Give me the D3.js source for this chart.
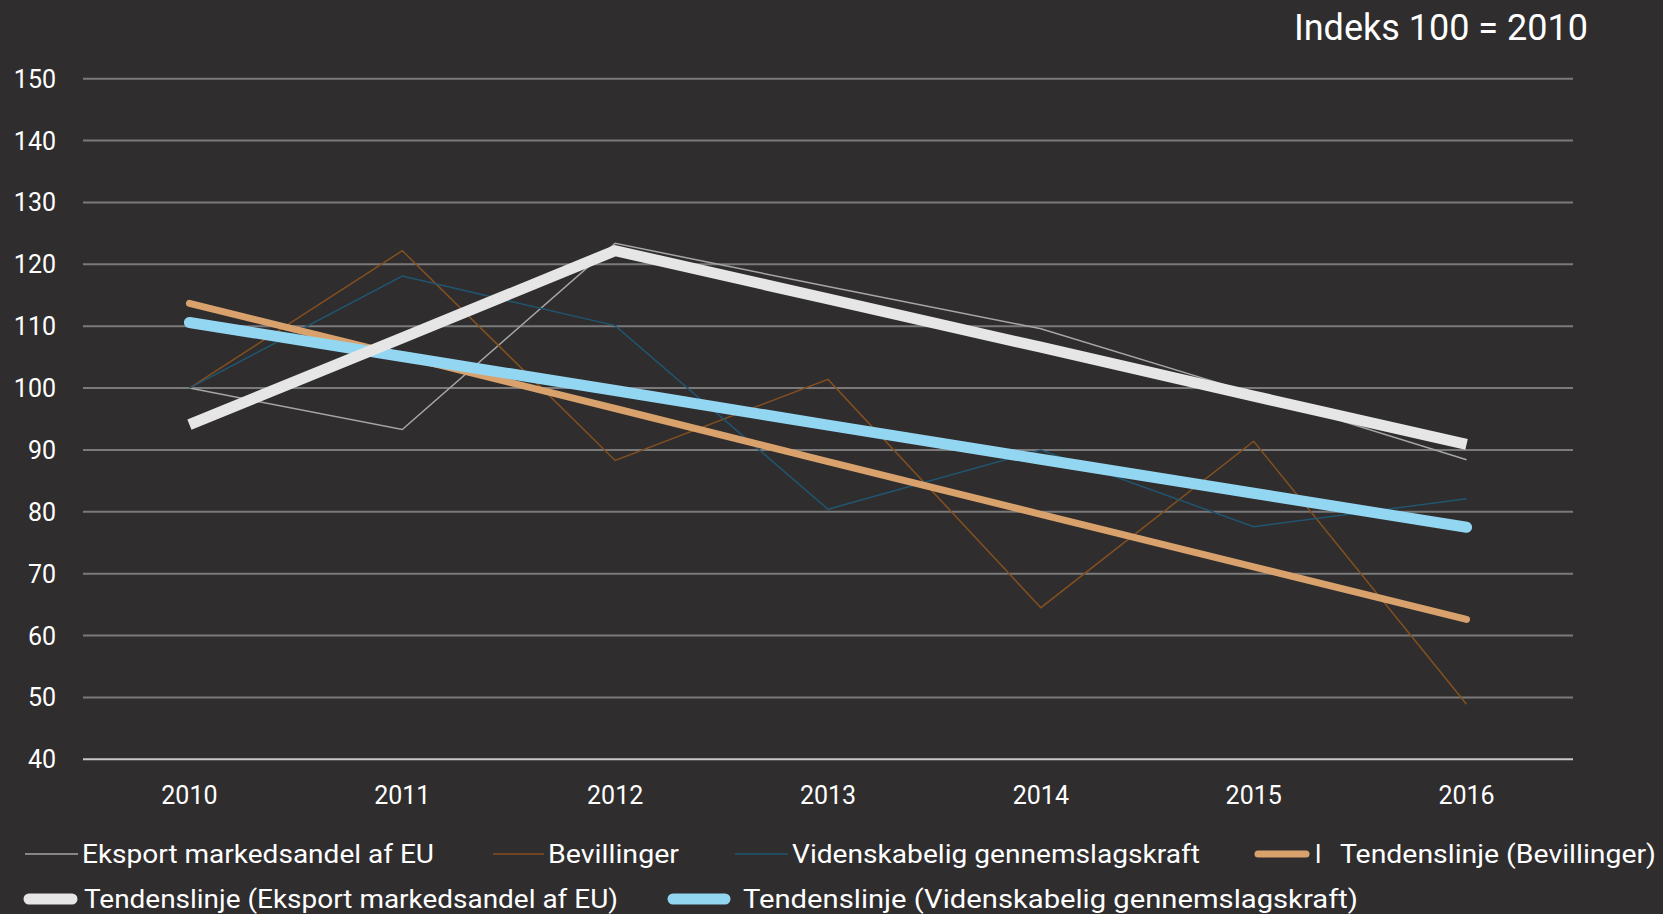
<!DOCTYPE html>
<html>
<head>
<meta charset="utf-8">
<script src="https://cdn.jsdelivr.net/npm/d3@7"></script>
<style>
  body { margin: 0; background: #2f2d2e; }
  text { font-family: Roboto, "Noto Sans", sans-serif; fill: #ffffff; }
</style>
</head>
<body>
<script>
var svg_width = 1663;
var svg_height = 914;

// data (index, 2010 = 100)
var years = ["2010", "2011", "2012", "2013", "2014", "2015", "2016"];
var eksport = [100, 93.3, 123.4, 116.4, 109.6, 99.1, 88.4];
var bevillinger = [100, 122.2, 88.3, 101.4, 64.5, 91.4, 48.9];
var videnskab = [100, 118.1, 110.1, 80.4, 90, 77.6, 82.1];
var trendEksport = [94.1, 108.1, 122.2, 114.4, 106.6, 98.7, 90.9];
var trendBevillinger = [113.7, 105.2, 96.7, 88.1, 79.6, 71.1, 62.6];
var trendVidenskab = [110.6, 105.1, 99.6, 94.0, 88.5, 83.0, 77.5];
var yTicks = [40, 50, 60, 70, 80, 90, 100, 110, 120, 130, 140, 150];

var svg = d3.select("body")
  .append("svg")
  .attr("width", svg_width)
  .attr("height", svg_height);

var x = d3.scalePoint().domain(years).range([83, 1573]).padding(0.5);
var y = d3.scaleLinear().domain([40, 150]).range([759.3, 78.7]);

// gridlines
svg.append("g")
  .selectAll("line")
  .data(yTicks)
  .enter()
  .append("line")
  .attr("x1", 83)
  .attr("x2", 1573)
  .attr("y1", d => y(d))
  .attr("y2", d => y(d))
  .attr("stroke", d => d == 40 ? "#c8c8c8" : "#7b7a7b")
  .attr("stroke-width", 2);

// y labels
svg.append("g")
  .selectAll("text")
  .data(yTicks)
  .enter()
  .append("text")
  .attr("x", 56)
  .attr("y", d => y(d))
  .attr("dy", "0.36em")
  .attr("text-anchor", "end")
  .style("font-size", "25px")
  .text(d => d);

// x labels
svg.append("g")
  .selectAll("text")
  .data(years)
  .enter()
  .append("text")
  .attr("x", d => x(d))
  .attr("y", 795)
  .attr("dy", "0.36em")
  .attr("text-anchor", "middle")
  .style("font-size", "25px")
  .text(d => d);

svg.append("text")
  .attr("x", 1588)
  .attr("y", 40)
  .attr("text-anchor", "end")
  .style("font-size", "36px")
  .text("Indeks 100 = 2010");

var line = d3.line()
  .x((d, i) => x(years[i]))
  .y(d => y(d));

var series = [
  { values: eksport, color: "#a6a6a6", width: 1.5, cap: "butt" },
  { values: bevillinger, color: "#84501f", width: 1.5, cap: "butt" },
  { values: videnskab, color: "#215570", width: 1.5, cap: "butt" },
  { values: trendBevillinger, color: "#d9a26c", width: 7, cap: "round" },
  { values: trendVidenskab, color: "#93d6f2", width: 11, cap: "round" },
  { values: trendEksport, color: "#e6e6e6", width: 11, cap: "butt" }
];

series.forEach(function(s) {
  svg.append("path")
    .attr("d", line(s.values))
    .attr("fill", "none")
    .attr("stroke", s.color)
    .attr("stroke-width", s.width)
    .attr("stroke-linecap", s.cap)
    .attr("stroke-linejoin", "miter");
});

// legend
var legend = [
  { label: "Eksport markedsandel af EU", color: "#a6a6a6", width: 1.5, x: 25, y: 854, len: 53, tx: 82, tw: 352 },
  { label: "Bevillinger", color: "#84501f", width: 1.5, x: 493, y: 854, len: 51, tx: 548, tw: 131 },
  { label: "Videnskabelig gennemslagskraft", color: "#215570", width: 1.5, x: 735, y: 854, len: 53, tx: 792, tw: 408 },
  { label: "Tendenslinje (Bevillinger)", color: "#d9a26c", width: 7, x: 1258, y: 854, len: 48, tx: 1340, tw: 316 },
  { label: "Tendenslinje (Eksport markedsandel af EU)", color: "#e6e6e6", width: 11, x: 29, y: 899, len: 43, tx: 84, tw: 534 },
  { label: "Tendenslinje (Videnskabelig gennemslagskraft)", color: "#93d6f2", width: 11, x: 673, y: 899, len: 52, tx: 743, tw: 615 }
];

var lg = svg.append("g");
legend.forEach(function(l) {
  lg.append("line")
    .attr("x1", l.x)
    .attr("x2", l.x + l.len)
    .attr("y1", l.y)
    .attr("y2", l.y)
    .attr("stroke", l.color)
    .attr("stroke-width", l.width)
    .attr("stroke-linecap", l.width > 2 ? "round" : "butt");
  lg.append("text")
    .attr("x", l.tx)
    .attr("y", l.y)
    .attr("dy", "0.36em")
    .attr("textLength", l.tw)
    .attr("lengthAdjust", "spacingAndGlyphs")
    .style("font-size", "26px")
    .text(l.label);
});

// stray "l" glyph that sits after the orange legend key
lg.append("text")
  .attr("x", 1315)
  .attr("y", 854)
  .attr("dy", "0.36em")
  .style("font-size", "26px")
  .text("l");
</script>
</body>
</html>
